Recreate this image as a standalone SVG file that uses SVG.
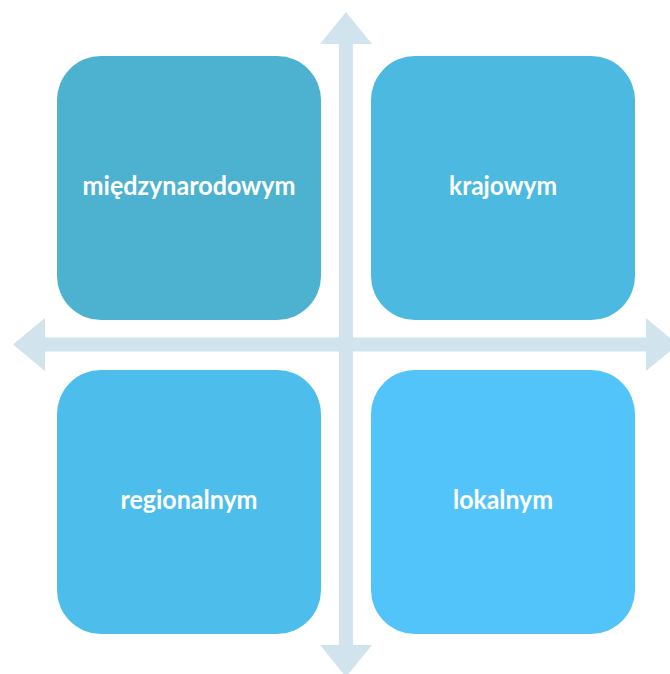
<svg xmlns="http://www.w3.org/2000/svg" width="670" height="674" viewBox="0 0 670 674">
  <style>
    .lbl { font-family: Lato, "Open Sans", "Liberation Sans", sans-serif; font-weight: bold; font-size: 26.67px; fill: #FFFFFF; text-anchor: middle; }
    .arrow { fill: #D1E4EE; }
  </style>
  <rect width="670" height="674" fill="#FFFFFF"/>
  <g id="connectors">
    <polygon class="arrow" points="346,12 372,44 353,44 353,645 372,645 346,677 320,645 339,645 339,44 320,44"/>
    <polygon class="arrow" points="13,344.5 45,318 45,337.5 646,337.5 646,318 678,344.5 646,371 646,351.5 45,351.5 45,371"/>
  </g>
  <g id="node-miedzynarodowym">
    <rect x="57" y="56" width="264" height="264" rx="44" ry="44" fill="#4CB2CF"/>
    <text class="lbl" x="189" y="195" textLength="213" lengthAdjust="spacingAndGlyphs">międzynarodowym</text>
  </g>
  <g id="node-krajowym">
    <rect x="371" y="56" width="264" height="264" rx="44" ry="44" fill="#4CBAE0"/>
    <text class="lbl" x="503" y="195" textLength="108" lengthAdjust="spacingAndGlyphs">krajowym</text>
  </g>
  <g id="node-regionalnym">
    <rect x="57" y="370" width="264" height="264" rx="44" ry="44" fill="#4DBDEB"/>
    <text class="lbl" x="189" y="509" textLength="137" lengthAdjust="spacingAndGlyphs">regionalnym</text>
  </g>
  <g id="node-lokalnym">
    <rect x="371" y="370" width="264" height="264" rx="44" ry="44" fill="#53C4FA"/>
    <text class="lbl" x="503" y="509" textLength="100" lengthAdjust="spacingAndGlyphs">lokalnym</text>
  </g>
</svg>
